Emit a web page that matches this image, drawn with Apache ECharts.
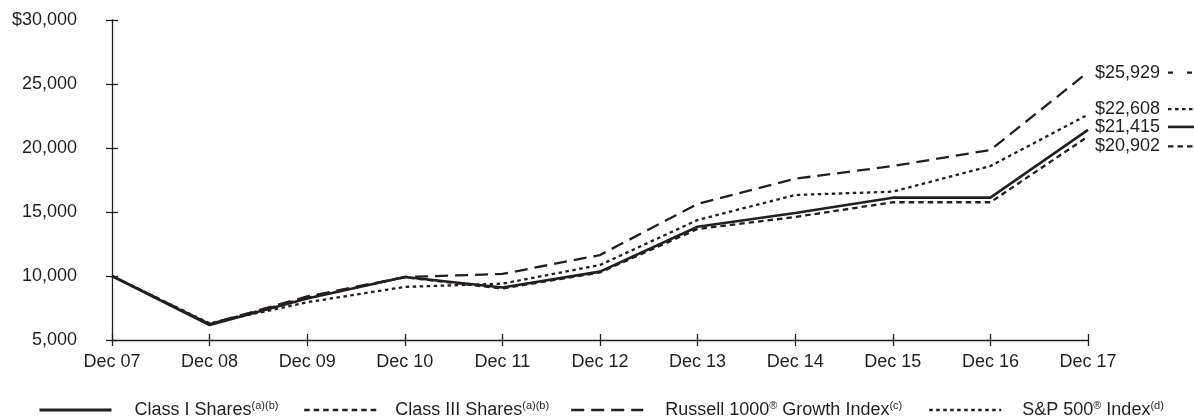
<!DOCTYPE html>
<html><head><meta charset="utf-8">
<script src="https://cdn.jsdelivr.net/npm/echarts@6/dist/echarts.min.js"></script>
<style>html,body{margin:0;padding:0;background:#fff}#c{width:1194px;height:417px}</style>
</head><body><div id="c"></div>
<script>
var categories = ['Dec 07','Dec 08','Dec 09','Dec 10','Dec 11','Dec 12','Dec 13','Dec 14','Dec 15','Dec 16','Dec 17'];
var classI   = [10000, 6170, 8250, 9920, 9100, 10340, 13850, 14920, 16120, 16120, 21415];
var classIII = [10000, 6250, 8300, 9900, 9020, 10280, 13670, 14610, 15760, 15760, 20902];
var russell  = [10000, 6250, 8400, 9920, 10160, 11640, 15625, 17600, 18590, 19840, 25929];
var sp500    = [10000, 6300, 7950, 9150, 9400, 10860, 14375, 16330, 16590, 18590, 22608];
var endText = ['$21,415','$20,902','$25,929','$22,608'];

var C = '#231f20';
var FONT = 'Liberation Sans, Arial, sans-serif';
var FS = 18;
var chart = echarts.init(document.getElementById('c'));
var dashes = [null, [5.5,4], [13,7], [3.5,3.5]];
var widths = [2.6, 2.3, 2.3, 2.3];
var names = ['Class I Shares','Class III Shares','Russell 1000 Growth Index','S&P 500 Index'];
var legendFmt = {
  'Class I Shares': '{t|Class I Shares}{s|(a)(b)}',
  'Class III Shares': '{t|Class III Shares}{s|(a)(b)}',
  'Russell 1000 Growth Index': '{t|Russell 1000}{s|®}{u| Growth Index}{s|(c)}',
  'S&P 500 Index': '{t|S&P 500}{s|®}{u| Index}{s|(d)}'
};
var legendLeft = [38, 303, 570, 928];
var legendPad = [18, 14, 17, 16];
var labelOffsets = [[7,-3],[7,10],[7,0.5],[7,-5.5]];
var datas = [classI, classIII, russell, sp500];

var series = datas.map(function(d,i){
  return {
    name: names[i], type: 'line', data: d, symbol: 'none', silent: true,
    lineStyle: {color: C, width: widths[i], type: dashes[i] || 'solid'},
    itemStyle: {color: C},
    endLabel: {show: true, formatter: endText[i], color: C, fontSize: FS, fontFamily: FONT,
      distance: 0, offset: labelOffsets[i]},
    z: 10 - i
  };
});

var legends = names.map(function(n,i){
  return {
    left: legendLeft[i], top: 400, itemWidth: 72, itemHeight: 14, padding: 0,
    data: [n],
    itemStyle: {opacity: 0},
    lineStyle: {width: i === 0 ? 3 : 2.4},
    formatter: function(nm){ return legendFmt[nm]; },
    textStyle: {color: C, fontFamily: FONT, fontSize: FS,
      rich: {
        t: {fontSize: FS, fontFamily: FONT, color: C, padding: [0,0,0,legendPad[i]], lineHeight: 20},
        u: {fontSize: FS, fontFamily: FONT, color: C, lineHeight: 20},
        s: {fontSize: 11, fontFamily: FONT, color: C, verticalAlign: 'top', lineHeight: 20}
      }
    }
  };
});

var yFmt = function(v){ return v === 30000 ? '$30,000' : echarts.format.addCommas(v); };
chart.setOption({
  animation: false,
  grid: {left: 112, right: 106, top: 20, bottom: 77, containLabel: false},
  xAxis: [{
    type: 'category', data: categories, boundaryGap: false,
    axisLine: {lineStyle: {color: C, width: 1.3}},
    axisTick: {show: true, length: 6, inside: false, lineStyle: {color: C, width: 1.3}},
    axisLabel: {color: C, fontSize: FS, fontFamily: FONT, margin: 13, interval: 0}
  },{
    type: 'category', data: categories, boundaryGap: false, position: 'bottom',
    axisLine: {show: false},
    axisTick: {show: true, length: 6, inside: true, lineStyle: {color: C, width: 1.3}},
    axisLabel: {show: false}
  }],
  yAxis: [{
    type: 'value', min: 5000, max: 30000, interval: 5000,
    axisLine: {show: true, lineStyle: {color: C, width: 1.3}},
    axisTick: {show: true, length: 6, inside: false, lineStyle: {color: C, width: 1.3}},
    splitLine: {show: false},
    axisLabel: {color: C, fontSize: FS, fontFamily: FONT, margin: 35, formatter: yFmt}
  },{
    type: 'value', min: 5000, max: 30000, interval: 5000, position: 'left',
    axisLine: {show: false},
    axisTick: {show: true, length: 6, inside: true, lineStyle: {color: C, width: 1.3}},
    splitLine: {show: false}, axisLabel: {show: false}
  }],
  legend: legends,
  series: series
});

var g = [];
datas.forEach(function(d,i){
  var p = chart.convertToPixel({xAxisIndex: 0, yAxisIndex: 0}, [categories.length-1, d[d.length-1]]);
  var y = p[1] + labelOffsets[i][1];
  g.push({type: 'line', silent: true,
    shape: {x1: p[0] + 80, y1: y, x2: p[0] + 110, y2: y},
    style: {stroke: C, lineWidth: widths[i], lineDash: dashes[i] ? (i === 2 ? [5,14] : dashes[i]) : null}
  });
});
chart.setOption({graphic: g});
</script></body></html>
